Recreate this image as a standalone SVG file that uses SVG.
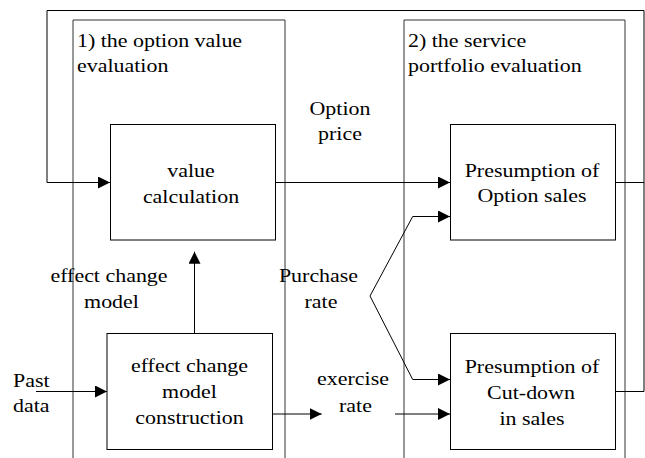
<svg xmlns="http://www.w3.org/2000/svg" width="645" height="458" viewBox="0 0 645 458">
<defs>
<marker id="ah" markerUnits="userSpaceOnUse" markerWidth="12" markerHeight="12" refX="12" refY="6" orient="auto">
<path d="M0,0 L12,6 L0,12 z" fill="#000"/>
</marker>
</defs>
<rect width="645" height="458" fill="#fff"/>
<g id="panel1">
<path fill="none" stroke="#333" d="M73,458 V20 H285 V458"/>
<text font-family="Liberation Serif" font-size="19.6" transform="matrix(1.12 0 0 1 77 47.3)">1) the option value</text>
<text font-family="Liberation Serif" font-size="19.6" transform="matrix(1.12 0 0 1 77 72.3)">evaluation</text>
</g>
<g id="panel2">
<path fill="none" stroke="#333" d="M404,458 V20 H625 V458"/>
<text font-family="Liberation Serif" font-size="19.6" transform="matrix(1.12 0 0 1 408 47.3)">2) the service</text>
<text font-family="Liberation Serif" font-size="19.6" transform="matrix(1.12 0 0 1 408 72.3)">portfolio evaluation</text>
</g>
<g id="connectors" fill="none" stroke="#000" stroke-width="1">
<path d="M616,391.5 H644 V10.5 H47 V182.5 H110" marker-end="url(#ah)"/>
<path d="M616,182.5 H644"/>
<path d="M276,182.5 H450" marker-end="url(#ah)"/>
<path d="M194.5,333 V251.7" marker-end="url(#ah)"/>
<path d="M36,391.5 H107" marker-end="url(#ah)"/>
<path d="M272.5,414 H321.7" marker-end="url(#ah)"/>
<path d="M395,414 H450" marker-end="url(#ah)"/>
<path d="M370,296 L412.7,216.5 H450" marker-end="url(#ah)"/>
<path d="M370,296 L412.7,379.5 H450" marker-end="url(#ah)"/>
</g>
<g id="value-calculation">
<rect fill="#fff" stroke="#000" x="110.5" y="124.5" width="165" height="115.5"/>
<text font-family="Liberation Serif" font-size="19.6" text-anchor="middle" transform="matrix(1.12 0 0 1 191 176.7)">value</text>
<text font-family="Liberation Serif" font-size="19.6" text-anchor="middle" transform="matrix(1.12 0 0 1 191 203.3)">calculation</text>
</g>
<g id="option-sales">
<rect fill="#fff" stroke="#000" x="450.5" y="124.5" width="165" height="115.5"/>
<text font-family="Liberation Serif" font-size="19.6" text-anchor="middle" transform="matrix(1.12 0 0 1 532 176.7)">Presumption of</text>
<text font-family="Liberation Serif" font-size="19.6" text-anchor="middle" transform="matrix(1.12 0 0 1 532 201.7)">Option sales</text>
</g>
<g id="model-construction">
<rect fill="#fff" stroke="#000" x="107" y="333.5" width="165.5" height="116"/>
<text font-family="Liberation Serif" font-size="19.6" text-anchor="middle" transform="matrix(1.12 0 0 1 189.5 372)">effect change</text>
<text font-family="Liberation Serif" font-size="19.6" text-anchor="middle" transform="matrix(1.12 0 0 1 189.5 398)">model</text>
<text font-family="Liberation Serif" font-size="19.6" text-anchor="middle" transform="matrix(1.12 0 0 1 189.5 424)">construction</text>
</g>
<g id="cut-down">
<rect fill="#fff" stroke="#000" x="450.5" y="333.5" width="165" height="116"/>
<text font-family="Liberation Serif" font-size="19.6" text-anchor="middle" transform="matrix(1.12 0 0 1 532 373.3)">Presumption of</text>
<text font-family="Liberation Serif" font-size="19.6" text-anchor="middle" transform="matrix(1.12 0 0 1 531 399.3)">Cut-down</text>
<text font-family="Liberation Serif" font-size="19.6" text-anchor="middle" transform="matrix(1.12 0 0 1 532 425)">in sales</text>
</g>
<g id="labels">
<text font-family="Liberation Serif" font-size="19.6" text-anchor="middle" transform="matrix(1.12 0 0 1 340 115)">Option</text>
<text font-family="Liberation Serif" font-size="19.6" text-anchor="middle" transform="matrix(1.12 0 0 1 340 140)">price</text>
<text font-family="Liberation Serif" font-size="19.6" text-anchor="middle" transform="matrix(1.12 0 0 1 109 282)">effect change</text>
<text font-family="Liberation Serif" font-size="19.6" text-anchor="middle" transform="matrix(1.12 0 0 1 111.5 307.5)">model</text>
<text font-family="Liberation Serif" font-size="19.6" text-anchor="middle" transform="matrix(1.12 0 0 1 318.5 282)">Purchase</text>
<text font-family="Liberation Serif" font-size="19.6" text-anchor="middle" transform="matrix(1.12 0 0 1 321 307.5)">rate</text>
<text font-family="Liberation Serif" font-size="19.6" transform="matrix(1.12 0 0 1 13 386.5)">Past</text>
<text font-family="Liberation Serif" font-size="19.6" transform="matrix(1.12 0 0 1 13 412)">data</text>
<text font-family="Liberation Serif" font-size="19.6" text-anchor="middle" transform="matrix(1.12 0 0 1 353 385)">exercise</text>
<text font-family="Liberation Serif" font-size="19.6" text-anchor="middle" transform="matrix(1.12 0 0 1 355.5 411.7)">rate</text>
</g>
</svg>
